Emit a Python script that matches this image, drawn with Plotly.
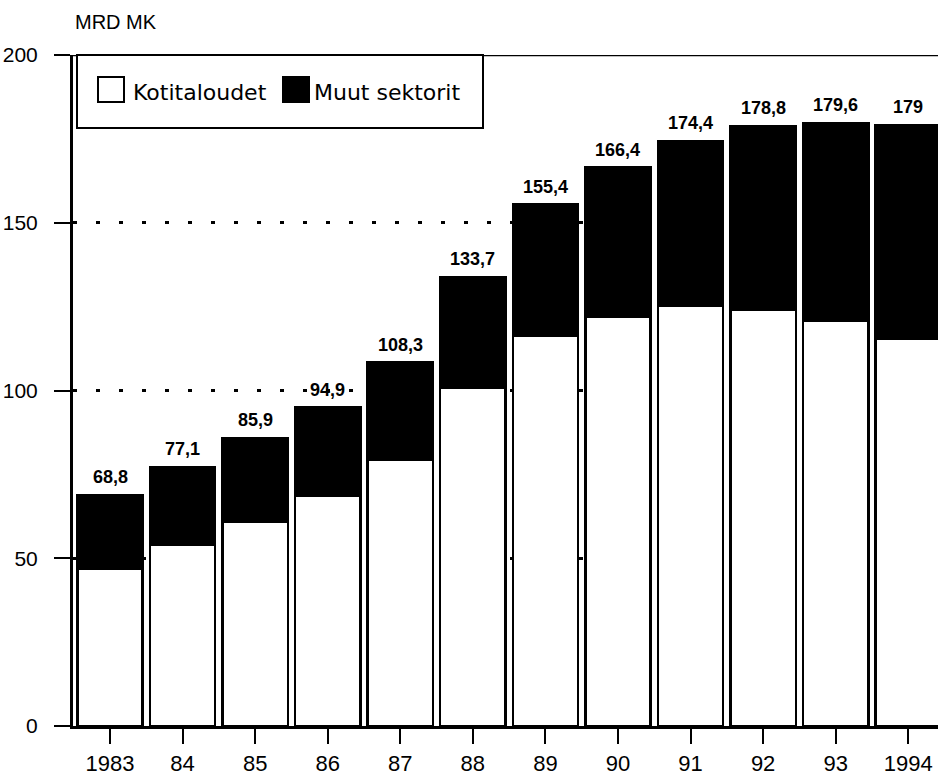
import plotly.graph_objects as go

years = ["1983", "84", "85", "86", "87", "88", "89", "90", "91", "92", "93", "1994"]
totals = [68.8, 77.1, 85.9, 94.9, 108.3, 133.7, 155.4, 166.4, 174.4, 178.8, 179.6, 179.0]
kotitaloudet = [47.0, 53.9, 61.0, 68.5, 79.5, 100.7, 116.2, 122.0, 125.3, 124.1, 120.8, 115.5]
total_labels = ["68,8", "77,1", "85,9", "94,9", "108,3", "133,7", "155,4", "166,4", "174,4", "178,8", "179,6", "179"]
muut = [round(t - k, 1) for t, k in zip(totals, kotitaloudet)]

FONT = "Liberation Sans, Arial, sans-serif"

fig = go.Figure()
fig.add_trace(go.Bar(
    x=years, y=kotitaloudet, name="Kotitaloudet",
    marker=dict(color="white", line=dict(color="black", width=2.5)),
))
fig.add_trace(go.Bar(
    x=years, y=muut, name="Muut sektorit",
    marker=dict(color="black", line=dict(color="black", width=2.5)),
))

for i, (tot, lab) in enumerate(zip(totals, total_labels)):
    fig.add_annotation(
        x=i, y=tot, text="<b>" + lab + "</b>", showarrow=False,
        yanchor="middle", yshift=18,
        font=dict(family=FONT, size=18, color="black"),
    )

# solid top frame line at 200
fig.add_shape(type="line", xref="paper", yref="y", x0=0, x1=1, y0=200, y1=200,
              line=dict(color="black", width=2.5), layer="above")

# manual legend
def px_x(px):
    return (px - 73) / 865.0

def px_y(py):
    return (726 - py) / 671.0

fig.add_shape(type="rect", xref="paper", yref="paper",
              x0=px_x(77), x1=px_x(483), y0=px_y(128), y1=px_y(55),
              line=dict(color="black", width=2), fillcolor="white", layer="above")
fig.add_shape(type="rect", xref="paper", yref="paper",
              x0=px_x(98), x1=px_x(124), y0=px_y(102), y1=px_y(77),
              line=dict(color="black", width=2), fillcolor="white", layer="above")
fig.add_shape(type="rect", xref="paper", yref="paper",
              x0=px_x(283), x1=px_x(309), y0=px_y(102), y1=px_y(77),
              line=dict(color="black", width=2), fillcolor="black", layer="above")
fig.add_annotation(xref="paper", yref="paper", x=px_x(131), y=px_y(92),
                   text="Kotitaloudet", showarrow=False, xanchor="left", yanchor="middle",
                   font=dict(family="DejaVu Sans, sans-serif", size=22, color="black"))
fig.add_annotation(xref="paper", yref="paper", x=px_x(312), y=px_y(92),
                   text="Muut sektorit", showarrow=False, xanchor="left", yanchor="middle",
                   font=dict(family="DejaVu Sans, sans-serif", size=22, color="black"))

# y axis title
fig.add_annotation(xref="paper", yref="paper", x=px_x(73), y=px_y(22),
                   text="MRD MK", showarrow=False, xanchor="left", yanchor="middle",
                   font=dict(family=FONT, size=20, color="black"))

fig.update_layout(
    width=938, height=780,
    margin=dict(l=73, r=0, t=55, b=54),
    barmode="stack", bargap=0.1,
    showlegend=False,
    paper_bgcolor="white", plot_bgcolor="white",
    font=dict(family=FONT, color="black"),
)
fig.update_xaxes(
    type="category", range=[-0.51, 11.41],
    showline=True, linecolor="black", linewidth=3,
    ticks="outside", ticklen=15, tickwidth=2, tickcolor="black",
    tickfont=dict(family=FONT, size=22, color="black"),
    ticklabelstandoff=1,
    showgrid=False, zeroline=False,
)
fig.update_yaxes(
    range=[0, 200], tickvals=[0, 50, 100, 150, 200],
    showline=True, linecolor="black", linewidth=3,
    ticks="outside", ticklen=16, tickwidth=2, tickcolor="black",
    tickfont=dict(family=FONT, size=21, color="black"),
    ticklabelstandoff=12,
    showgrid=True, gridcolor="black", gridwidth=3, griddash="4px,19px",
    zeroline=False,
)

fig.write_html(
    "out.html",
    config={"displayModeBar": False},
    post_script="document.body.style.margin='0';document.body.style.overflow='hidden';",
)
